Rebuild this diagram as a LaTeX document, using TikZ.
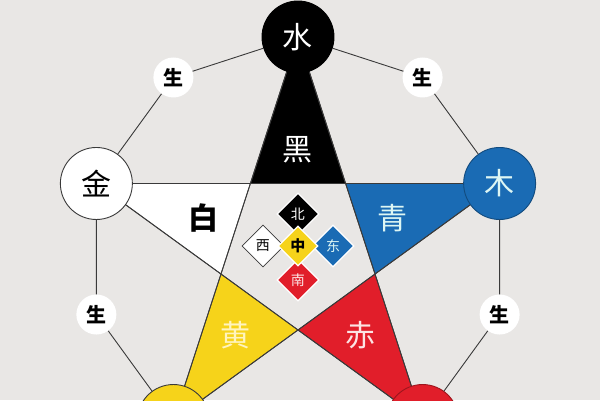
\documentclass[tikz,border=0pt]{standalone}
\usepackage{fontspec}
\newfontfamily\cjk{Noto Sans CJK SC}
\usepackage{tikz}
\usetikzlibrary{calc,positioning,shapes.geometric}

\definecolor{bg}{HTML}{E9E7E5}
\definecolor{ln}{HTML}{3A3A3A}
\definecolor{wblue}{HTML}{1A6BB4}
\definecolor{wred}{HTML}{E11E2A}
\definecolor{wyel}{HTML}{F6D31A}
\definecolor{tcyan}{HTML}{DDF6F4}
\definecolor{tpink}{HTML}{FCE4E4}
\definecolor{tyel}{HTML}{FFF4BE}

\tikzset{
  elem/.style={circle, minimum size=72pt, inner sep=0pt, draw=ln, line width=0.9pt,
    font=\cjk\fontsize{30}{30}\selectfont},
  sheng/.style={circle, fill=white, minimum size=40pt, inner sep=0pt,
    font=\cjk\bfseries\fontsize{20}{20}\selectfont},
  hue/.style={font=\cjk\fontsize{30}{30}\selectfont},
  dir/.style={diamond, minimum size=42pt, inner sep=0pt, draw=white, line width=1.2pt,
    font=\cjk\fontsize{14}{14}\selectfont},
}

\begin{document}
\begin{tikzpicture}[x=1pt, y=1pt]
  % общие параметры
  \def\R{212}
  \pgfmathsetmacro{\ri}{\R*cos(72)/cos(36)}  % радиус внутреннего пятиугольника

  \useasboundingbox[fill=bg] (-298,-151) rectangle (302,249);

  % лучи звезды
  \foreach \a/\c in {90/black, 18/wblue, -54/wred, -126/wyel, 162/white}
    \filldraw[fill=\c, draw=ln, line width=0.8pt] (\a:\R) -- (\a+36:\ri) -- (\a-36:\ri) -- cycle;

  % пентаграмма
  \draw[ln, line width=0.9pt] (90:\R) -- (-54:\R) -- (162:\R) -- (18:\R) -- (-126:\R) -- cycle;

  % стихии
  \node[elem, fill=black, draw=black, text=white] (shui) at (90:\R) {水};
  \node[elem, fill=wblue, draw=wblue!70!black, text=tcyan] (mu) at (18:\R) {木};
  \node[elem, fill=wred, draw=wred!70!black] (huo) at (-54:\R) {};
  \node[elem, fill=wyel, draw=ln] (tu) at (-126:\R) {};
  \node[elem, fill=white] (jin) at (162:\R) {金};

  % порождение
  \foreach \a/\n in {126/sa, 54/sb, -18/sc, -162/sd}
    \node[sheng] (\n) at (\a:\R) {生};

  \draw[ln, line width=0.9pt] (shui) -- (sb) -- (mu) -- (sc) -- (huo);
  \draw[ln, line width=0.9pt] (tu) -- (sd) -- (jin) -- (sa) -- (shui);

  % цвета
  \node[hue, text=white] (hei) at (90:99) {黑};
  \node[hue, text=tcyan] (qing) at (18:99) {青};
  \node[hue, text=tpink] (chi) at (-54:106) {赤};
  \node[hue, text=tyel] (huang) at (-126:106) {黄};
  \node[hue, font=\cjk\bfseries\fontsize{30}{30}\selectfont] (bai) at (162:99) {白};

  % стороны света
  \node[dir, fill=black, text=white] (bei) at (0,35) {北};
  \node[dir, fill=wblue, text=tcyan] (dong) at (35,3) {东};
  \node[dir, fill=wred, text=tpink] (nan) at (0,-31) {南};
  \node[dir, fill=white, draw=ln, line width=0.8pt] (xi) at (-35,3) {西};
  \node[dir, fill=wyel, minimum size=40pt, font=\cjk\bfseries\fontsize{15}{15}\selectfont] (zhong) at (0,3) {中};
\end{tikzpicture}
\end{document}
